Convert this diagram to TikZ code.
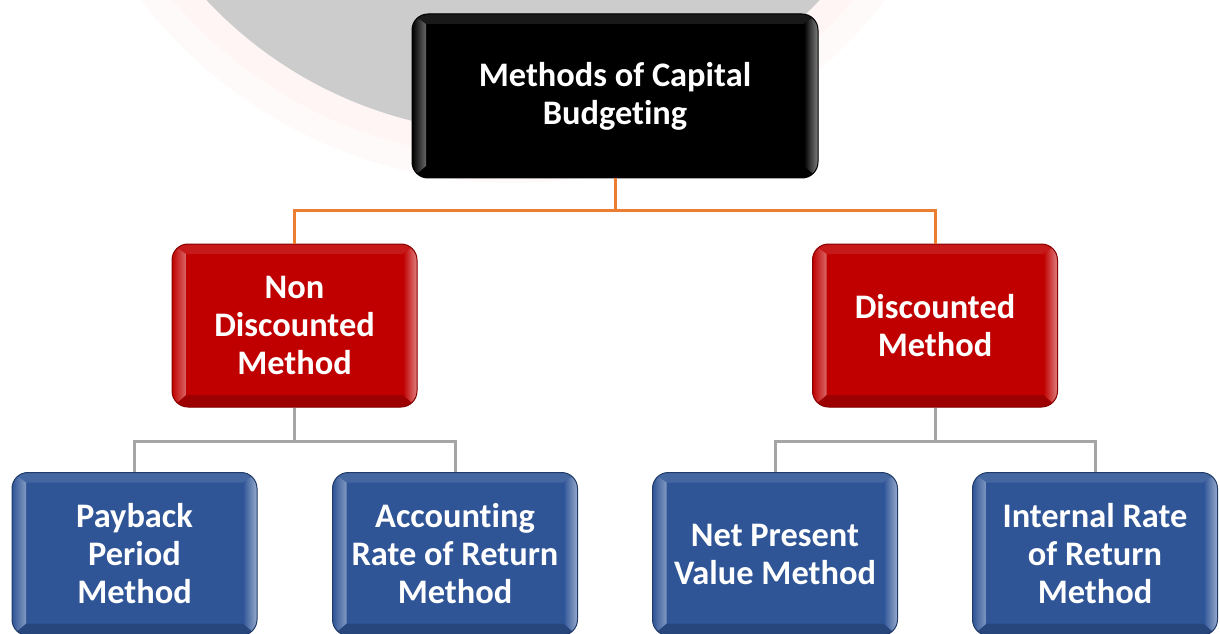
\documentclass[tikz,border=0pt]{standalone}
\usepackage{fontspec}
\setmainfont{Carlito}[Ligatures=NoCommon]
\usetikzlibrary{positioning,calc}

\definecolor{capblack}{RGB}{0,0,0}
\definecolor{capred}{RGB}{192,0,0}
\definecolor{capblue}{RGB}{47,85,151}
\definecolor{linkorange}{RGB}{237,125,49}
\definecolor{linkgray}{RGB}{165,165,165}

\tikzset{
  tile/.style={rounded corners=8pt, draw=#1!70!black, line width=0.5pt, fill=#1,
    text=white, font=\bfseries\fontsize{17.2}{19}\selectfont, align=center,
    minimum width=122.5pt, minimum height=81.5pt, inner sep=0pt,
    path picture={
      \coordinate (sw) at (path picture bounding box.south west);
      \coordinate (ne) at (path picture bounding box.north east);
      \coordinate (nw) at (sw |- ne);
      \coordinate (se) at (ne |- sw);
      % bevel: top, bottom, left, right
      \fill[sharp corners, #1!90!white] (nw) -- (ne) -- ($(ne)+(-7pt,-5pt)$) -- ($(nw)+(7pt,-5pt)$) -- cycle;
      \fill[sharp corners, #1!82!black] (sw) -- (se) -- ($(se)+(-7pt,6pt)$) -- ($(sw)+(7pt,6pt)$) -- cycle;
      \shade[sharp corners, left color=#1, right color=#1!60!white] (sw) -- ($(sw)+(7pt,6pt)$) -- ($(nw)+(7pt,-5pt)$) -- (nw) -- cycle;
      \shade[sharp corners, left color=#1, right color=#1!50!white] (se) -- ($(se)+(-7pt,6pt)$) -- ($(ne)+(-7pt,-5pt)$) -- (ne) -- cycle;
    }},
  toplink/.style={linkorange, line width=1.5pt},
  sublink/.style={linkgray, line width=1.5pt},
}

\begin{document}
\begin{tikzpicture}[x=0.5pt, y=0.5pt]
    \useasboundingbox (0,0) rectangle (1220,633);

    % Background
    \fill[white] (0,0) rectangle (1220,633);
    \begin{scope}
        \clip (0,0) rectangle (1220,633);
        \fill[red!2] (513,920) circle (470);
        \fill[red!4] (513,920) circle (445);
        \fill[black!20] (513,920) circle (420);
    \end{scope}

    % Root
    \node[tile=capblack, minimum width=203pt, minimum height=82pt] (budget) at (615,537) {Methods of Capital\\Budgeting};

    % Second level
    \node[tile=capred] (nondisc) at (294.5,307.5) {Non\\Discounted\\Method};
    \node[tile=capred] (disc) at (935,307.5) {Discounted\\Method};

    % Third level
    \node[tile=capblue] (payback) at (134.5,79) {Payback\\Period\\Method};
    \node[tile=capblue] (arr) at (455,79) {Accounting\\Rate of Return\\Method};
    \node[tile=capblue] (npv) at (775,79) {Net Present\\Value Method};
    \node[tile=capblue] (irr) at (1095,79) {Internal Rate\\of Return\\Method};

    % Links
    \draw[toplink] (budget.south) -- ++(0,-32) coordinate (rootjoin) -| (nondisc.north);
    \draw[toplink] (rootjoin) -| (disc.north);

    \draw[sublink] (nondisc.south) -- ++(0,-34) coordinate (leftjoin) -| (payback.north);
    \draw[sublink] (leftjoin) -| (arr.north);
    \draw[sublink] (disc.south) -- ++(0,-34) coordinate (rightjoin) -| (npv.north);
    \draw[sublink] (rightjoin) -| (irr.north);

\end{tikzpicture}
\end{document}
